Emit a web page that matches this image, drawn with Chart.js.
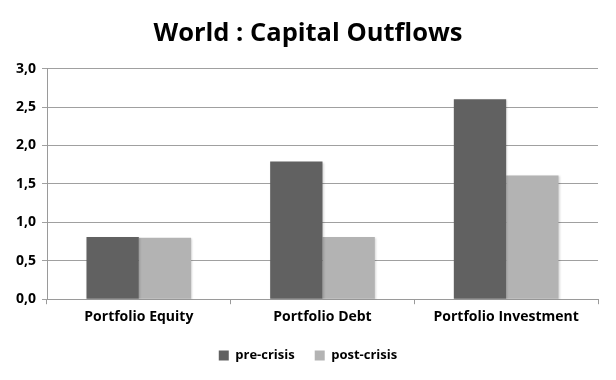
<!DOCTYPE html>
<html><head><meta charset="utf-8">
<script src="https://cdn.jsdelivr.net/npm/chart.js@4/dist/chart.umd.min.js"></script>
<style>html,body{margin:0;padding:0;background:#fff}#w{width:616px;height:380px}</style>
</head><body><div id="w"><canvas id="c"></canvas></div>
<script>
const categories = ["Portfolio Equity", "Portfolio Debt", "Portfolio Investment"];
const preCrisis = [0.81, 1.79, 2.60];
const postCrisis = [0.80, 0.81, 1.61];
const seriesNames = ["pre-crisis", "post-crisis"];
const yTicks = [0, 0.5, 1.0, 1.5, 2.0, 2.5, 3.0];
const FONT = "'Open Sans', 'Liberation Sans', sans-serif";

const shadow = {
  id: 'shadow',
  beforeDatasetsDraw(chart){ const c=chart.ctx; c.save(); c.shadowColor='rgba(0,0,0,0.15)'; c.shadowBlur=2; c.shadowOffsetX=1; c.shadowOffsetY=1; },
  afterDatasetsDraw(chart){ chart.ctx.restore(); }
};

new Chart(document.getElementById('c'), {
  type: 'bar',
  data: {
    labels: categories,
    datasets: [
      {label: seriesNames[0], data: preCrisis, backgroundColor: '#616161'},
      {label: seriesNames[1], data: postCrisis, backgroundColor: '#b3b3b3'}
    ]
  },
  plugins: [shadow],
  options: {
    responsive: true, maintainAspectRatio: false, animation: false,
    layout: {padding: {left: 11, right: 11, top: 0, bottom: 8}},
    datasets: {bar: {categoryPercentage: 0.57, barPercentage: 1.0}},
    plugins: {
      title: {display: true, text: 'World : Capital Outflows', color: '#000',
        font: {family: FONT, size: 25.5, weight: 'bold'}, padding: {top: 18, bottom: 20}},
      legend: {position: 'bottom', labels: {boxWidth: 10, boxHeight: 10, color: '#000',
        font: {family: FONT, size: 13, weight: 'bold'}, padding: 20}},
      tooltip: {enabled: false}
    },
    scales: {
      x: {
        grid: {display: true, drawOnChartArea: false, color: '#9a9a9a', tickLength: 5, offset: true},
        border: {color: '#9a9a9a'},
        ticks: {color: '#000', font: {family: FONT, size: 14, weight: 'bold'}, padding: 4}
      },
      y: {
        min: 0, max: 3,
        afterBuildTicks(s){ s.ticks = yTicks.map(v => ({value: v})); },
        afterFit(s){ s.width = 36; },
        grid: {color: '#a0a0a0', tickLength: 5},
        border: {color: '#9a9a9a'},
        ticks: {color: '#000', font: {family: FONT, size: 14, weight: 'bold'}, padding: 6,
          callback: v => v.toFixed(1).replace('.', ',')}
      },
      yRight: {
        position: 'right', min: 0, max: 3,
        afterFit(s){ s.width = 7; },
        grid: {display: false, drawOnChartArea: false},
        border: {display: false},
        ticks: {display: false}
      }
    }
  }
});
</script></body></html>
